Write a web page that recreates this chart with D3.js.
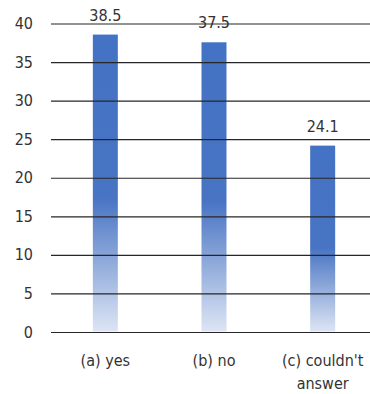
<!DOCTYPE html>
<html>
<head>
<meta charset="utf-8">
<script src="https://cdn.jsdelivr.net/npm/d3@7"></script>
<style>
  html, body { margin: 0; padding: 0; background: #fff; }
  svg { display: block; }
  text { font-family: "DejaVu Sans Condensed", "DejaVu Sans", sans-serif; font-stretch: condensed; fill: #333; }
</style>
</head>
<body>
<div id="chart"></div>
<script>
// Survey answers (percent)
const categories = ["(a) yes", "(b) no", "(c) couldn't answer"];
const categoryLines = [["(a) yes"], ["(b) no"], ["(c) couldn't", "answer"]];
const values = [38.5, 37.5, 24.1];
const yTicks = [0, 5, 10, 15, 20, 25, 30, 35, 40];

const W = 370, H = 394;
const margin = { left: 51, right: -7, top: 23, bottom: 62.5 };
const fontSize = 16;

const svg = d3.select("#chart").append("svg")
  .attr("width", W).attr("height", H);

const x = d3.scaleBand()
  .domain(categories)
  .range([margin.left, W - margin.right])
  .paddingInner(0.77).paddingOuter(0.385);

const y = d3.scaleLinear()
  .domain([0, 40])
  .range([H - margin.bottom, margin.top]);

// Vertical fade applied per bar: solid blue in the upper half, pale at the base
const defs = svg.append("defs");
const grad = defs.append("linearGradient")
  .attr("id", "barFade")
  .attr("x1", 0).attr("y1", 0).attr("x2", 0).attr("y2", 1);
grad.append("stop").attr("offset", "0%").attr("stop-color", "#4472C4");
grad.append("stop").attr("offset", "55%").attr("stop-color", "#4874C3");
grad.append("stop").attr("offset", "100%").attr("stop-color", "#DDE5F4");

// Bars
svg.append("g").selectAll("rect")
  .data(values)
  .join("rect")
  .attr("x", (d, i) => x(categories[i]))
  .attr("width", x.bandwidth())
  .attr("y", d => y(d))
  .attr("height", d => y(0) - y(d))
  .attr("fill", "url(#barFade)");

// Horizontal gridlines drawn over the bars
const yAxis = d3.axisLeft(y)
  .tickValues(yTicks)
  .tickSize(-(W - margin.left))
  .tickPadding(18)
  .tickFormat(d3.format("d"));

const gy = svg.append("g")
  .attr("transform", `translate(${margin.left},0)`)
  .call(yAxis);
gy.select(".domain").remove();
gy.selectAll(".tick line")
  .attr("stroke", "#262626")
  .attr("stroke-width", 1.2)
  .attr("transform", "translate(0,0.5)");
gy.selectAll(".tick text")
  .attr("font-size", fontSize)
  .attr("font-family", null)
  .attr("fill", "#333")
  .attr("dy", "0.35em");

// Value labels
svg.append("g").selectAll("text")
  .data(values)
  .join("text")
  .attr("x", (d, i) => x(categories[i]) + x.bandwidth() / 2)
  .attr("y", d => y(d) - 14)
  .attr("text-anchor", "middle")
  .attr("font-size", fontSize)
  .text(d => d.toFixed(1));

// Category labels
const labels = svg.append("g").selectAll("text")
  .data(categoryLines)
  .join("text")
  .attr("x", (d, i) => x(categories[i]) + x.bandwidth() / 2)
  .attr("y", 366)
  .attr("text-anchor", "middle")
  .attr("font-size", fontSize);
labels.selectAll("tspan")
  .data(d => d)
  .join("tspan")
  .attr("x", function () { return d3.select(this.parentNode).attr("x"); })
  .attr("dy", (d, i) => i === 0 ? 0 : 23)
  .text(d => d);
</script>
</body>
</html>
